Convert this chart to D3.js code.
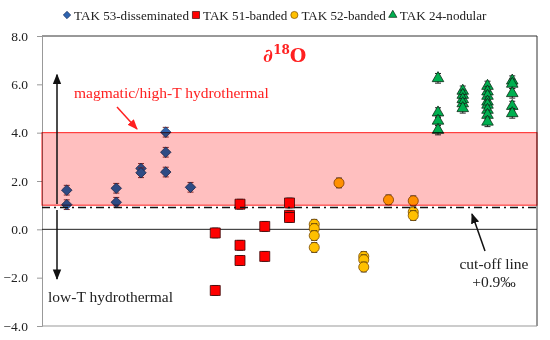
<!DOCTYPE html>
<html><head><meta charset="utf-8">
<script src="https://cdn.jsdelivr.net/npm/d3@7"></script>
<style>body{margin:0;background:#fff}svg{display:block}</style>
</head><body>
<svg id="c" width="550" height="340"></svg>
<script>
// ---- data ----
const seriesNames = ["TAK 53-disseminated","TAK 51-banded","TAK 52-banded","TAK 24-nodular"];
const x53 = [1,1,3,3,4,4,5,5,5,6];
const y53 = [1.62,1.02,1.70,1.12,2.52,2.34,4.02,3.19,2.37,1.74];
const x51 = [7,7,8,8,8,9,9,10,10,10];
const y51 = [-0.15,-2.53,1.04,-0.66,-1.29,0.12,-1.12,1.09,0.58,0.49];
const x52 = [11,11,11,11,12,13,13,13,14,15,15,15];
const y52 = [0.21,0.03,-0.26,-0.75,1.92,-1.12,-1.26,-1.56,1.22,1.18,0.72,0.57];
const x24 = [16,16,16,16,17,17,17,17,17,18,18,18,18,18,18,18,18,19,19,19,19,19];
const y24 = [6.25,4.83,4.49,4.11,5.73,5.56,5.38,5.21,5.01,5.93,5.70,5.52,5.28,5.15,4.94,4.73,4.45,6.15,6.02,5.63,5.10,4.80];
const errBar = 0.2;
const yTicks = [8,6,4,2,0,-2,-4];
const bandRange = [1.0, 4.0];
const cutoff = 0.9;

const svg = d3.select("#c");
const L = 42, R = 537, T = 36, B = 326;
const x = d3.scaleLinear().domain([0,20]).range([L,R]);
const y = d3.scaleLinear().domain([-4,8]).range([B,T]);
const font = '"Liberation Serif", serif';

const styles = [
  {sym:d3.symbolDiamond2, size:70, fill:"#2E64B0", stroke:"#1B2F5C", err:"#7A2A2A"},
  {sym:d3.symbolSquare, size:100, fill:"#FF0000", stroke:"#3A0A0A", err:"#222"},
  {sym:d3.symbolCircle, size:80, fill:"#FFC000", stroke:"#7A4A00", err:"#222"},
  {sym:d3.symbolTriangle, size:58, fill:"#00B050", stroke:"#0A2A14", err:"#222"}
];
const data = [[x53,y53],[x51,y51],[x52,y52],[x24,y24]];

// frame
svg.append("line").attr("x1",L).attr("x2",R).attr("y1",T).attr("y2",T).attr("stroke","#333").attr("stroke-width",1);
svg.append("line").attr("x1",R).attr("x2",R).attr("y1",T).attr("y2",B).attr("stroke","#333").attr("stroke-width",1);
svg.append("line").attr("x1",L).attr("x2",R).attr("y1",B).attr("y2",B).attr("stroke","#999").attr("stroke-width",1);

// y axis
const ax = svg.append("g").attr("transform",`translate(${L},0)`)
  .call(d3.axisLeft(y).tickValues(yTicks).tickFormat(d3.format(".1f")).tickSize(5).tickPadding(9));
ax.select(".domain").attr("stroke","#999");
ax.selectAll(".tick line").attr("stroke","#999");
ax.selectAll("text").style("font-family",font).style("font-size","13.5px").attr("fill","#222");

// zero line
svg.append("line").attr("x1",L).attr("x2",R).attr("y1",y(0)).attr("y2",y(0)).attr("stroke","#222").attr("stroke-width",1);

// points
data.forEach(([xs,ys],i)=>{
  const st = styles[i];
  const g = svg.append("g");
  xs.forEach((xv,j)=>{
    const cx = x(xv), cy = y(ys[j]);
    const e = g.append("g").attr("stroke",st.err).attr("stroke-width",1);
    e.append("line").attr("x1",cx).attr("x2",cx).attr("y1",y(ys[j]+errBar)).attr("y2",y(ys[j]-errBar));
    e.append("line").attr("x1",cx-3).attr("x2",cx+3).attr("y1",y(ys[j]+errBar)).attr("y2",y(ys[j]+errBar));
    e.append("line").attr("x1",cx-3).attr("x2",cx+3).attr("y1",y(ys[j]-errBar)).attr("y2",y(ys[j]-errBar));
    g.append("path").attr("d",d3.symbol(st.sym,st.size)())
      .attr("transform",`translate(${cx},${cy})`)
      .attr("fill",st.fill).attr("stroke",st.stroke).attr("stroke-width",0.8);
  });
});

// band overlay (multiply, as in the reference)
svg.append("rect").attr("x",L).attr("y",y(bandRange[1])).attr("width",R-L)
  .attr("height",y(bandRange[0])-y(bandRange[1]))
  .attr("fill","#FFBFBF").style("mix-blend-mode","multiply")
  .attr("stroke","#FF2020").attr("stroke-width",1);

// cut-off line
svg.append("line").attr("x1",L).attr("x2",R).attr("y1",y(cutoff)).attr("y2",y(cutoff))
  .attr("stroke","#111").attr("stroke-width",1.5).attr("stroke-dasharray","8,4,2,4");

// arrow markers
const defs = svg.append("defs");
function mk(id,color){
  defs.append("marker").attr("id",id).attr("viewBox","0 0 10 10").attr("refX",9).attr("refY",5)
    .attr("markerWidth",7).attr("markerHeight",7).attr("orient","auto-start-reverse")
    .append("path").attr("d","M0,1 L10,5 L0,9 Z").attr("fill",color);
}
mk("ab","#111"); mk("ar","#FF2020");
svg.append("line").attr("x1",57).attr("x2",57).attr("y1",y(1.05)).attr("y2",y(6.4))
  .attr("stroke","#111").attr("stroke-width",1.5).attr("marker-end","url(#ab)");
svg.append("line").attr("x1",57).attr("x2",57).attr("y1",y(0.8)).attr("y2",y(-2.05))
  .attr("stroke","#111").attr("stroke-width",1.5).attr("marker-end","url(#ab)");
svg.append("line").attr("x1",117).attr("x2",137).attr("y1",107).attr("y2",129)
  .attr("stroke","#FF2020").attr("stroke-width",1.5).attr("marker-end","url(#ar)");
svg.append("line").attr("x1",485).attr("x2",472).attr("y1",251).attr("y2",214)
  .attr("stroke","#111").attr("stroke-width",1.5).attr("marker-end","url(#ab)");

function txt(xv,yv,s,size,color,anchor){
  return svg.append("text").attr("x",xv).attr("y",yv).attr("text-anchor",anchor||"start")
    .style("font-family",font).style("font-size",size+"px").attr("fill",color).text(s);
}
txt(74,98,"magmatic/high-T hydrothermal",15.5,"#FF2020");
txt(48,302,"low-T hydrothermal",15.5,"#222");
txt(494,269,"cut-off line",15.5,"#222","middle");
txt(494,287,"+0.9‰",15.5,"#222","middle");
const tt = svg.append("text").attr("x",263).attr("y",62).style("font-family",'"DejaVu Serif", serif').style("font-size","19px")
  .attr("font-weight","bold").attr("fill","#FF2020");
tt.append("tspan").text("∂");
tt.append("tspan").style("font-size","12px").attr("dy",-8).text("18");
tt.append("tspan").attr("dy",8).text("O");

// legend (laid out sequentially)
let lx = 67;
seriesNames.forEach((n,i)=>{
  const st = styles[i];
  svg.append("path").attr("d",d3.symbol(st.sym,st.size*0.5)())
    .attr("transform",`translate(${lx},15)`)
    .attr("fill",st.fill).attr("stroke",st.stroke).attr("stroke-width",0.7);
  const t = txt(lx+7,19.5,n,13.1,"#222");
  lx = lx + 7 + t.node().getComputedTextLength() + 7;
});
</script>
</body></html>
